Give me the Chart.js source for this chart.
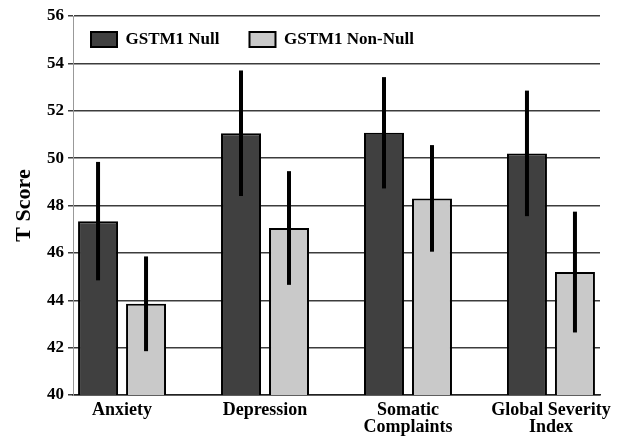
<!DOCTYPE html>
<html>
<head>
<meta charset="utf-8">
<script src="https://cdn.jsdelivr.net/npm/chart.js@4/dist/chart.umd.min.js"></script>
<style>
  html, body { margin: 0; padding: 0; background: #fff; }
  #wrap { width: 628px; height: 436px; }
</style>
</head>
<body>
<div id="wrap"><canvas id="c" width="628" height="436"></canvas></div>
<script>
const categories = [["Anxiety"], ["Depression"], ["Somatic", "Complaints"], ["Global Severity", "Index"]];
const seriesNames = ["GSTM1 Null", "GSTM1 Non-Null"];
const nullValues = [47.34, 51.05, 51.07, 50.2];
const nonNullValues = [43.85, 47.05, 48.3, 45.19];
const nullErr = [2.5, 2.65, 2.35, 2.65];
const nonNullErr = [2.0, 2.4, 2.25, 2.55];
const yTicks = [40, 42, 44, 46, 48, 50, 52, 54, 56];

const serif = "'Liberation Serif', 'Times New Roman', serif";
const legendGap = 30;

const toPoints = vals => vals.map((v, i) => ({ x: i, y: v }));

const errorBars = {
  id: 'errorBars',
  afterDatasetsDraw(chart) {
    const ctx = chart.ctx;
    const ys = chart.scales.y;
    chart.data.datasets.forEach((ds, di) => {
      const meta = chart.getDatasetMeta(di);
      meta.data.forEach((el, i) => {
        const v = ds.data[i].y, e = ds.errors[i];
        const top = ys.getPixelForValue(v + e);
        const bot = ys.getPixelForValue(v - e);
        ctx.save();
        ctx.strokeStyle = '#000';
        ctx.lineWidth = 4;
        ctx.beginPath();
        ctx.moveTo(el.x, top);
        ctx.lineTo(el.x, bot);
        ctx.stroke();
        ctx.restore();
      });
    });
  }
};

// Legend drawn by Chart.js but overlaid inside the plot area (takes no layout space)
const legendInside = {
  id: 'legendInside',
  beforeInit(chart) {
    const origFit = chart.legend.fit;
    chart.legend.fit = function () {
      origFit.call(this);
      this.height = 0;
    };
  },
  afterLayout(chart) {
    const l = chart.legend;
    const ca = chart.chartArea;
    l.left = ca.left + 18 - legendGap;
    l.right = ca.right;
    l.top = ca.top + 15 - legendGap;
    l.bottom = ca.top + 45;
    l.width = l.right - l.left;
    l.height = l.bottom - l.top;
  }
};

new Chart(document.getElementById('c'), {
  type: 'bar',
  data: {
    datasets: [
      { label: seriesNames[0], data: toPoints(nullValues), errors: nullErr,
        backgroundColor: '#404040', borderColor: '#000', borderWidth: 2, borderSkipped: false },
      { label: seriesNames[1], data: toPoints(nonNullValues), errors: nonNullErr,
        backgroundColor: '#c9c9c9', borderColor: '#000', borderWidth: 2, borderSkipped: false }
    ]
  },
  options: {
    responsive: false,
    animation: false,
    devicePixelRatio: 1,
    categoryPercentage: 0.6713,
    barPercentage: 0.8333,
    layout: { padding: { top: 16, right: 28, left: 0, bottom: 0 } },
    plugins: {
      tooltip: { enabled: false },
      legend: {
        position: 'top',
        align: 'start',
        labels: {
          color: '#000',
          boxWidth: 26,
          boxHeight: 15,
          padding: legendGap,
          font: { family: serif, size: 17, weight: 'bold' }
        }
      }
    },
    scales: {
      x: {
        type: 'linear',
        min: -0.343,
        max: 3.343,
        offset: false,
        grid: { display: false, drawTicks: false, offset: false },
        border: { display: true, color: '#222', width: 1.5 },
        afterBuildTicks(scale) { scale.ticks = categories.map((c, i) => ({ value: i })); },
        afterFit(scale) { scale.height = 41; },
        ticks: {
          color: '#000',
          padding: 7,
          maxRotation: 0,
          autoSkip: false,
          font: { family: serif, size: 18, weight: 'bold', lineHeight: 0.94 },
          callback: v => categories[v]
        }
      },
      y: {
        min: 40,
        max: 56,
        afterBuildTicks(scale) { scale.ticks = yTicks.map(v => ({ value: v })); },
        afterFit(scale) { scale.width = 73; },
        grid: { color: '#3c3c3c', lineWidth: 1.5, tickLength: 5 },
        border: { display: true, color: '#999', width: 1 },
        title: {
          display: true,
          text: 'T Score',
          color: '#000',
          padding: { top: 11, bottom: 0 },
          font: { family: serif, size: 22, weight: 'bold' }
        },
        ticks: {
          color: '#000',
          padding: 4,
          font: { family: serif, size: 17, weight: 'bold' }
        }
      }
    }
  },
  plugins: [errorBars, legendInside]
});
</script>
</body>
</html>
